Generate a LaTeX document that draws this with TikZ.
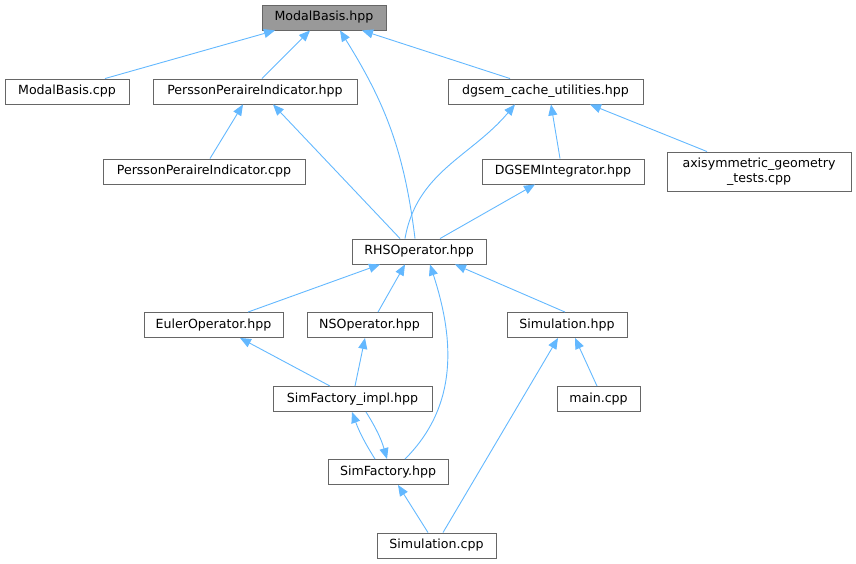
\documentclass[tikz,border=0pt]{standalone}
\usepackage{fontspec}
\setmainfont{DejaVu Sans}
\usetikzlibrary{arrows.meta}
\definecolor{edgeblue}{HTML}{63B8FF}
\definecolor{boxgray}{HTML}{666666}
\definecolor{rootfill}{HTML}{999999}
\tikzset{
  box/.style={draw=boxgray, line width=0.9pt, fill=white, inner sep=0pt, minimum height=25pt, font=\fontsize{12.6}{14.5}\selectfont, align=center},
  rootbox/.style={box, fill=rootfill},
  edge/.style={draw=edgeblue, line width=0.9pt, {Triangle[length=11pt,width=9pt,fill=edgeblue]}-},
}
\begin{document}
\begin{tikzpicture}[x=1pt,y=-1pt]
\useasboundingbox (0,0) rectangle (856,564);
\node[rootbox, minimum width=124pt] (mb) at (324,17.5) {ModalBasis.hpp};
\node[box, minimum width=124pt] (mbc) at (67,91.5) {ModalBasis.cpp};
\node[box, minimum width=204pt] (ppih) at (255,91.5) {PerssonPeraireIndicator.hpp};
\node[box, minimum width=195pt] (dcu) at (545.5,91.5) {dgsem\_cache\_utilities.hpp};
\node[box, minimum width=202pt] (ppic) at (204,171.5) {PerssonPeraireIndicator.cpp};
\node[box, minimum width=162pt] (dgi) at (563,171.5) {DGSEMIntegrator.hpp};
\node[box, minimum width=184pt, minimum height=39pt] (axi) at (759,171.5) {axisymmetric\_geometry\\\_tests.cpp};
\node[box, minimum width=134pt] (rhs) at (419,251.5) {RHSOperator.hpp};
\node[box, minimum width=139pt] (eul) at (213.5,325) {EulerOperator.hpp};
\node[box, minimum width=125pt] (nso) at (369.5,325) {NSOperator.hpp};
\node[box, minimum width=120pt] (simh) at (567,325) {Simulation.hpp};
\node[box, minimum width=159pt] (sfi) at (352.5,399) {SimFactory\_impl.hpp};
\node[box, minimum width=83pt] (mainc) at (598.5,399) {main.cpp};
\node[box, minimum width=120pt] (sf) at (388,472) {SimFactory.hpp};
\node[box, minimum width=119pt] (simc) at (436.5,545.5) {Simulation.cpp};

% edges: arrow tip at the included file (start of path)
\draw[edge] ([xshift=-49pt]mb.south) -- ([xshift=38pt]mbc.north);
\draw[edge] ([xshift=-14pt]mb.south) -- ([xshift=7pt]ppih.north);
\draw[edge] ([xshift=16pt]mb.south) to[out=-58,in=97] ([xshift=-4pt]rhs.north);
\draw[edge] ([xshift=38pt]mb.south) -- ([xshift=-35.5pt]dcu.north);
\draw[edge] ([xshift=-12pt]ppih.south) -- ([xshift=6pt]ppic.north);
\draw[edge] ([xshift=18pt]ppih.south) -- ([xshift=-19pt]rhs.north);
\draw[edge] ([xshift=-30.5pt]dcu.south) to[out=-130,in=80] ([xshift=-14pt]rhs.north);
\draw[edge] ([xshift=5.5pt]dcu.south) -- ([xshift=-3pt]dgi.north);
\draw[edge] ([xshift=44.5pt]dcu.south) -- ([xshift=-52pt]axi.north);
\draw[edge] ([xshift=-28pt]dgi.south) -- ([xshift=21pt]rhs.north);
\draw[edge] ([xshift=-39pt]rhs.south) -- ([xshift=34.5pt]eul.north);
\draw[edge] ([xshift=-14pt]rhs.south) -- ([xshift=8.5pt]nso.north);
\draw[edge] ([xshift=11pt]rhs.south) to[out=-72,in=45] ([xshift=17pt]sf.north);
\draw[edge] ([xshift=36pt]rhs.south) -- ([xshift=-2pt]simh.north);
\draw[edge] ([xshift=26.5pt]eul.south) -- ([xshift=-22.5pt]sfi.north);
\draw[edge] ([xshift=-4.5pt]nso.south) -- ([xshift=2.5pt]sfi.north);
\draw[edge] ([xshift=-0.5pt]sfi.south) to[bend right=6] ([xshift=-13pt]sf.north);
\draw[edge] ([xshift=-1pt]sf.north) to[bend right=8] ([xshift=13.5pt]sfi.south);
\draw[edge] ([xshift=8pt]simh.south) -- ([xshift=-1.5pt]mainc.north);
\draw[edge] ([xshift=-9pt]simh.south) -- ([xshift=6.5pt]simc.north);
\draw[edge] ([xshift=10pt]sf.south) -- ([xshift=-8.5pt]simc.north);
\end{tikzpicture}
\end{document}
